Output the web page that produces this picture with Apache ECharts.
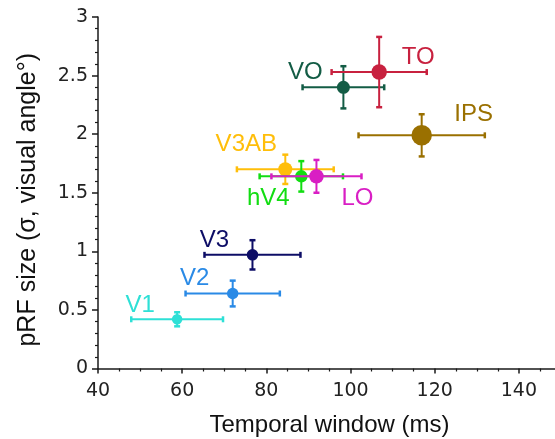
<!DOCTYPE html>
<html>
<head>
<meta charset="utf-8">
<script src="https://cdn.jsdelivr.net/npm/echarts@6/dist/echarts.min.js"></script>
<style>
  html, body { margin: 0; padding: 0; background: #fff; }
  #chart { width: 555px; height: 439px; }
</style>
</head>
<body>
<div id="chart"></div>
<script>
// Visual areas, in drawing order
const regions = ['V1', 'V2', 'V3', 'V3AB', 'hV4', 'LO', 'VO', 'TO', 'IPS'];
// Temporal window (ms): mean and error
const temporalWindow = [58.8, 72.0, 76.7, 84.5, 88.3, 91.9, 98.3, 106.8, 116.9];
const temporalErr    = [10.9, 11.2, 11.4, 11.5, 9.9, 10.7, 9.7, 11.3, 15.0];
// pRF size (sigma, deg): mean and error
const prfSize = [0.42, 0.64, 0.97, 1.70, 1.64, 1.64, 2.40, 2.53, 1.99];
const prfErr  = [0.06, 0.11, 0.125, 0.125, 0.13, 0.14, 0.18, 0.30, 0.18];

// Axis ticks
const xTicks = { min: 40, max: 150, step: 20 };
const yTicks = { min: 0, max: 3, step: 0.5 };

// Per-area look: colour, marker diameter, label offset from the marker (px)
const looks = {
  V1:   { color: '#2EE0D6', size: 10.5, dx: -37, dy: -14 },
  V2:   { color: '#2A8AE6', size: 11.5, dx: -38, dy: -15 },
  V3:   { color: '#0D0D66', size: 11.5, dx: -38, dy: -14 },
  V3AB: { color: '#FFBE0A', size: 14,   dx: -39, dy: -25 },
  hV4:  { color: '#12DD12', size: 12.5, dx: -33, dy: 22 },
  LO:   { color: '#D91EC4', size: 14.5, dx: 41,  dy: 22 },
  VO:   { color: '#135C45', size: 13,   dx: -38, dy: -15 },
  TO:   { color: '#C8213F', size: 15.5, dx: 39,  dy: -15 },
  IPS:  { color: '#9A7000', size: 20.5, dx: 52,  dy: -21 }
};

const rows = regions.map((r, i) => [temporalWindow[i], prfSize[i], temporalErr[i], prfErr[i], i]);

// Error bars (with end caps), filled marker and area name for one point
function renderPoint(params, api) {
  const x = api.value(0), y = api.value(1);
  const ex = api.value(2), ey = api.value(3);
  const name = regions[api.value(4)];
  const look = looks[name];
  const c = api.coord([x, y]);
  const l = api.coord([x - ex, y]);
  const r = api.coord([x + ex, y]);
  const t = api.coord([x, y + ey]);
  const b = api.coord([x, y - ey]);
  const cap = 3;
  const bar = { stroke: look.color, lineWidth: 2 };
  const capStyle = { stroke: look.color, lineWidth: 2.5 };
  return {
    type: 'group',
    children: [
      { type: 'line', shape: { x1: l[0], y1: l[1], x2: r[0], y2: r[1] }, style: bar },
      { type: 'line', shape: { x1: t[0], y1: t[1], x2: b[0], y2: b[1] }, style: bar },
      { type: 'line', shape: { x1: l[0], y1: l[1] - cap, x2: l[0], y2: l[1] + cap }, style: capStyle },
      { type: 'line', shape: { x1: r[0], y1: r[1] - cap, x2: r[0], y2: r[1] + cap }, style: capStyle },
      { type: 'line', shape: { x1: t[0] - cap, y1: t[1], x2: t[0] + cap, y2: t[1] }, style: capStyle },
      { type: 'line', shape: { x1: b[0] - cap, y1: b[1], x2: b[0] + cap, y2: b[1] }, style: capStyle },
      { type: 'circle', shape: { cx: c[0], cy: c[1], r: look.size / 2 }, style: { fill: look.color } },
      {
        type: 'text', x: c[0] + look.dx, y: c[1] + look.dy,
        style: {
          text: name, fill: look.color, fontSize: 24,
          fontFamily: 'Liberation Sans, Arial, sans-serif',
          align: 'center', verticalAlign: 'middle'
        }
      }
    ]
  };
}

const axisColor = '#1a1a1a';
const tickFont = { fontFamily: 'DejaVu Sans', fontSize: 19, color: '#222' };

const chart = echarts.init(document.getElementById('chart'), null, { renderer: 'canvas' });
chart.setOption({
  animation: false,
  grid: { left: 98, top: 17, width: 463, height: 351.5, containLabel: false, outerBoundsMode: 'none' },
  xAxis: {
    type: 'value', min: xTicks.min, max: xTicks.max, interval: xTicks.step,
    name: 'Temporal window (ms)', nameLocation: 'middle', nameGap: 45,
    nameTextStyle: { fontFamily: 'Liberation Sans, Arial, sans-serif', fontSize: 24, color: '#111' },
    axisLine: { show: true, lineStyle: { color: axisColor, width: 1.5 } },
    axisTick: { show: true, length: 5, lineStyle: { color: axisColor, width: 1.5 } },
    minorTick: { show: true, splitNumber: 4, length: 3, lineStyle: { color: axisColor, width: 1.2 } },
    axisLabel: Object.assign({ margin: 13, showMaxLabel: false }, tickFont),
    splitLine: { show: false }
  },
  yAxis: {
    type: 'value', min: yTicks.min, max: yTicks.max, interval: yTicks.step,
    name: 'pRF size (σ, visual angle°)', nameLocation: 'middle', nameGap: 57, nameRotate: 90,
    nameTextStyle: {
      fontFamily: 'Liberation Sans, Arial, sans-serif', fontSize: 25, color: '#111',
      padding: [0, 14, 0, 0]
    },
    axisLine: { show: true, lineStyle: { color: axisColor, width: 1.5 } },
    axisTick: { show: true, length: 6, lineStyle: { color: axisColor, width: 1.5 } },
    minorTick: { show: true, splitNumber: 5, length: 3, lineStyle: { color: axisColor, width: 1.2 } },
    axisLabel: Object.assign({ margin: 10 }, tickFont),
    splitLine: { show: false }
  },
  series: [{
    type: 'custom',
    renderItem: renderPoint,
    data: rows,
    clip: false
  }]
});
</script>
</body>
</html>
